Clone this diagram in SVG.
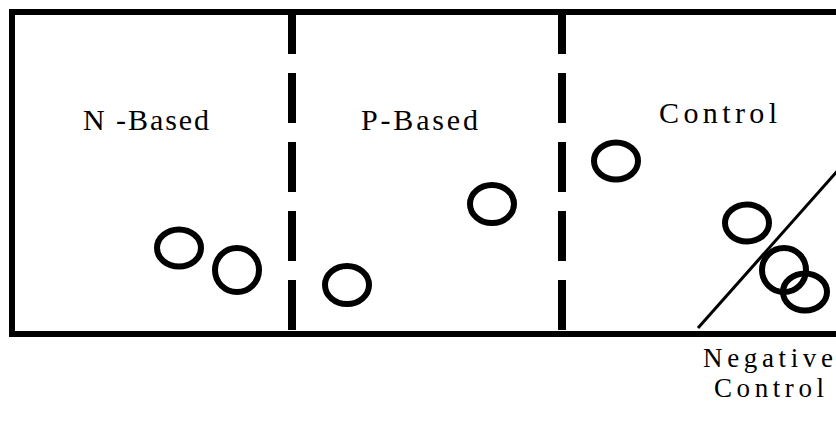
<svg xmlns="http://www.w3.org/2000/svg" width="836" height="427" viewBox="0 0 836 427">
<style>
.box{fill:none;stroke:#000;stroke-width:6}
.div{fill:none;stroke:#000;stroke-width:8;stroke-dasharray:50 19;stroke-dashoffset:9}
.ring{fill:none;stroke:#000;stroke-width:6}
.lbl{font-family:"Liberation Serif","Times New Roman",serif;font-size:30px;fill:#000}
.lbl2{font-family:"Liberation Serif","Times New Roman",serif;font-size:27px;fill:#000}
</style>
<rect width="836" height="427" fill="#fff"/>
<g id="frame">
<path class="box" d="M845 12 H12 V334 H845"/>
</g>
<g id="dividers">
<path class="div" d="M292 13 V331"/>
<path class="div" d="M562 13 V331"/>
</g>
<g id="n-based">
<text class="lbl" x="83" y="130" textLength="126" lengthAdjust="spacing">N -Based</text>
<ellipse class="ring" cx="179" cy="248" rx="22" ry="18.5"/>
<ellipse class="ring" cx="237" cy="270" rx="22" ry="22"/>
</g>
<g id="p-based">
<text class="lbl" x="361" y="130" textLength="117" lengthAdjust="spacing">P-Based</text>
<ellipse class="ring" cx="492" cy="204" rx="22" ry="19"/>
<ellipse class="ring" cx="347" cy="285" rx="22" ry="19"/>
</g>
<g id="control">
<text class="lbl" x="659" y="123" textLength="118" lengthAdjust="spacing">Control</text>
<ellipse class="ring" cx="616" cy="161" rx="22" ry="18.5"/>
<ellipse class="ring" cx="747" cy="223" rx="22" ry="18.5"/>
<ellipse class="ring" cx="784" cy="270" rx="22" ry="22"/>
<ellipse class="ring" cx="805" cy="292" rx="22" ry="18.5"/>
<line x1="698" y1="328" x2="840" y2="168" stroke="#000" stroke-width="3"/>
</g>
<g id="negative-control">
<text class="lbl2" x="768" y="367" text-anchor="middle" textLength="130" lengthAdjust="spacing">Negative</text>
<text class="lbl2" x="769" y="397" text-anchor="middle" textLength="110" lengthAdjust="spacing">Control</text>
</g>
</svg>
